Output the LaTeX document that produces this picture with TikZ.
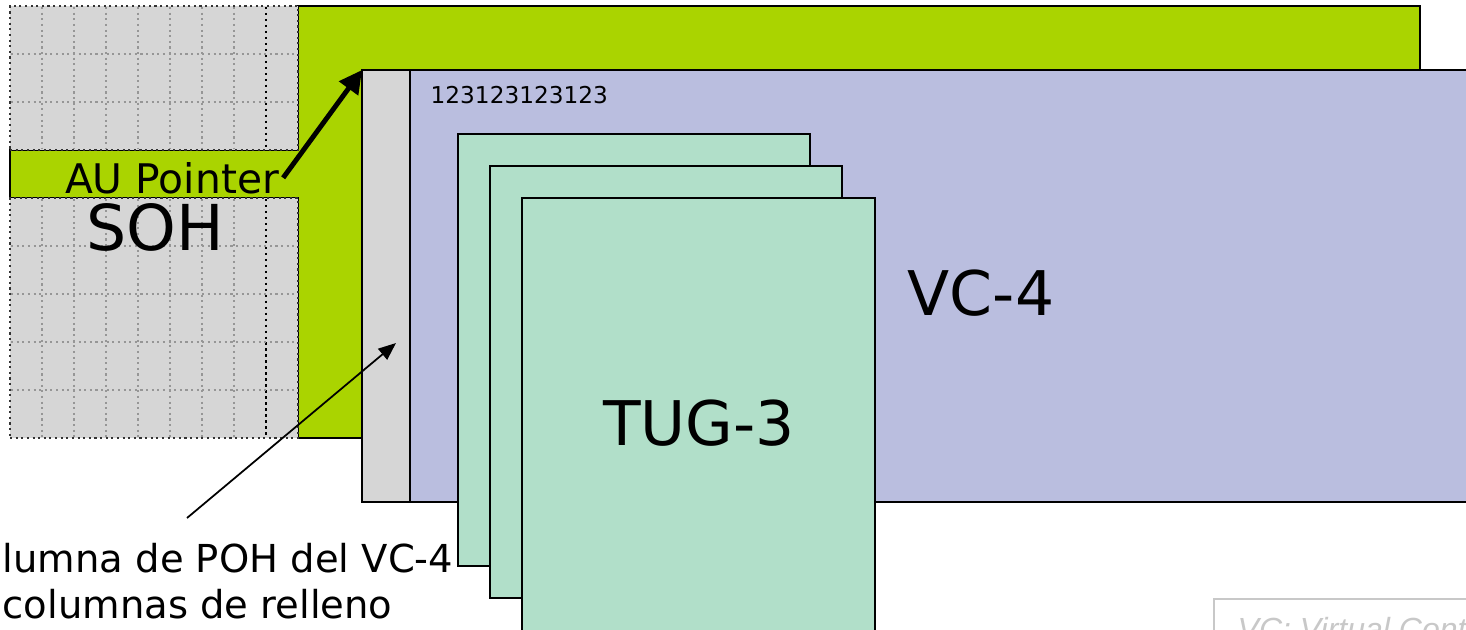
\documentclass[tikz,border=0pt]{standalone}
\usepackage{fontspec}
\setmainfont{DejaVu Sans}
\setsansfont{Liberation Sans}
\usetikzlibrary{arrows.meta}
\definecolor{sdhgreen}{RGB}{170,212,0}
\definecolor{vclav}{RGB}{186,190,223}
\definecolor{tugmint}{RGB}{177,223,201}
\definecolor{sohgrey}{RGB}{214,214,214}
\definecolor{gridgrey}{RGB}{150,150,150}
\definecolor{legendgrey}{RGB}{200,200,200}
\begin{document}
\begin{tikzpicture}[x=0.01cm,y=-0.01cm,
  blk/.style={draw=black,line width=0.6pt,inner sep=0pt,outer sep=0pt,anchor=north west},
  sohbox/.style={blk,fill=sohgrey,draw=black!80,densely dotted},
  tugbox/.style={blk,fill=tugmint},
  gridline/.style={gridgrey,densely dotted,line width=0.6pt},
  lbl/.style={inner sep=1pt,text=black},
  bigarrow/.style={line width=1.4pt,-{Triangle[length=6.5pt,width=6.5pt]}},
  thinarrow/.style={line width=0.5pt,-{Triangle[length=5pt,width=4pt]}}]
\useasboundingbox (0,0) rectangle (1466,629);
\clip (0,0) rectangle (1466,629);
% AU-4 payload area (green)
\filldraw[fill=sdhgreen,draw=black,line width=0.6pt]
  (10,150) -- (298,150) -- (298,6) -- (1420,6) -- (1420,438) -- (298,438)
  -- (298,198) -- (10,198) -- cycle;
% SOH blocks
\node[sohbox,minimum width=2.88cm,minimum height=1.44cm] (sohtop) at (10,6) {};
\node[sohbox,minimum width=2.88cm,minimum height=2.40cm] (sohbot) at (10,198) {};
\foreach \x in {42,74,106,138,170,202,234} {
  \draw[gridline] (\x,7) -- (\x,149);
  \draw[gridline] (\x,199) -- (\x,437);
}
\draw[black,densely dotted,line width=0.7pt] (266,7) -- (266,149);
\draw[black,densely dotted,line width=0.7pt] (266,199) -- (266,437);
\foreach \y in {54,102} \draw[gridline] (11,\y) -- (297,\y);
\foreach \y in {246,294,342,390} \draw[gridline] (11,\y) -- (297,\y);
% VC-4
\node[blk,fill=vclav,minimum width=10.70cm,minimum height=4.32cm] (vc4) at (410,70) {};
\node[blk,fill=sohgrey,minimum width=0.48cm,minimum height=4.32cm] (poh) at (362,70) {};
% TUG-3 stack
\node[tugbox,minimum width=3.52cm,minimum height=4.32cm] (tuga) at (458,134) {};
\node[tugbox,minimum width=3.52cm,minimum height=4.32cm] (tugb) at (490,166) {};
\node[tugbox,minimum width=3.53cm,minimum height=4.50cm] (tugc) at (522,198) {};
% legend box
\node[blk,draw=legendgrey,fill=white,minimum width=2.80cm,minimum height=0.60cm] (legend) at (1214,599) {};
% texts
\node[lbl,anchor=base,font=\fontsize{11.6}{14}\selectfont] (aup) at (172,193) {AU Pointer};
\node[lbl,anchor=base,font=\fontsize{18}{21}\selectfont] (soh) at (155,250) {SOH};
\node[lbl,anchor=base,font=\fontsize{17.5}{21}\selectfont] (vclbl) at (981,315) {VC-4};
\node[lbl,anchor=base,font=\fontsize{17.5}{21}\selectfont] (tuglbl) at (699,445) {TUG-3};
\node[lbl,anchor=base west,inner sep=0pt,font=\fontsize{6.6}{8}\selectfont] (nums) at (430,103) {123123123123};
\node[lbl,anchor=base west,inner sep=0pt,font=\fontsize{10.95}{14}\selectfont] (pohlbl) at (2,572) {lumna de POH del VC-4};
\node[lbl,anchor=base west,inner sep=0pt,font=\fontsize{10.95}{14}\selectfont] (rell) at (2,618) {columnas de relleno};
\node[lbl,anchor=base west,inner sep=0pt,text=legendgrey,font=\sffamily\itshape\fontsize{9.1}{11}\selectfont] (legtext) at (1237,640) {VC: Virtual Container};
% connectors
\coordinate (pohtail) at (187,518);
\coordinate (pohtip) at (396,343);
\draw[bigarrow] (aup.east) -- (poh.north west);
\draw[thinarrow] (pohtail) -- (pohtip);
\end{tikzpicture}
\end{document}
